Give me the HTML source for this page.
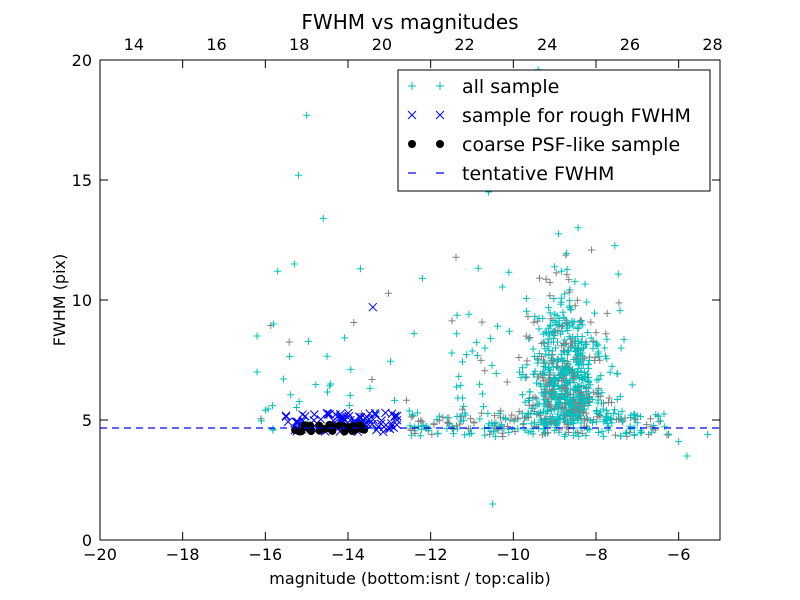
<!DOCTYPE html>
<html><head><meta charset="utf-8"><style>body{margin:0;background:#fff}svg{display:block}text{font-family:"DejaVu Sans","Liberation Sans",sans-serif}</style></head>
<body>
<svg id="s" width="800" height="600" xmlns="http://www.w3.org/2000/svg">
<rect width="800" height="600" fill="#fff"/>
<g id="pts"></g>
<line x1="100" y1="428" x2="720" y2="428" stroke="#0000ff" stroke-dasharray="7,5" stroke-width="1.2"/>
<rect x="100" y="60" width="620" height="480" fill="none" stroke="#000" stroke-width="1"/>
<g id="ticks" stroke="#000" stroke-width="1"></g>
<g id="labs" font-size="16" fill="#000"></g>
<text x="410" y="29" font-size="20" text-anchor="middle">FWHM vs magnitudes</text>
<text x="410" y="584" font-size="16" text-anchor="middle">magnitude (bottom:isnt / top:calib)</text>
<text x="65" y="300" font-size="16" text-anchor="middle" transform="rotate(-90 65 300)">FWHM (pix)</text>
<rect x="398" y="70" width="312" height="121" fill="#fff" stroke="#000" stroke-width="1"/>
<g stroke="#00bfbf" stroke-width="1"><path d="M408 86h8M412 82v8M436 86h8M440 82v8"/></g>
<g stroke="#0000ff" stroke-width="1"><path d="M408 111l8 8M416 111l-8 8M436 111l8 8M444 111l-8 8"/></g>
<circle cx="412" cy="144" r="4" fill="#000"/><circle cx="440" cy="144" r="4" fill="#000"/>
<path d="M408 173h8M436 173h8" stroke="#0000ff" stroke-width="1.2"/>
<g font-size="19" fill="#000"><text x="462" y="93">all sample</text><text x="462" y="122">sample for rough FWHM</text><text x="462" y="151">coarse PSF-like sample</text><text x="462" y="180">tentative FWHM</text></g>
</svg>
<script>
var NS="http://www.w3.org/2000/svg";
function X(v){return 100+(v+20)*620/15}function Y(v){return 540-v*24}
var t=document.getElementById('ticks'),l=document.getElementById('labs');
function ln(a,b,c,d){var e=document.createElementNS(NS,'line');e.setAttribute('x1',a);e.setAttribute('y1',b);e.setAttribute('x2',c);e.setAttribute('y2',d);t.appendChild(e)}
function tx(x,y,s,a){var e=document.createElementNS(NS,'text');e.setAttribute('x',x);e.setAttribute('y',y);e.setAttribute('text-anchor',a);e.textContent=s;l.appendChild(e)}
for(var v=-20;v<=-6;v+=2){var x=X(v);ln(x,540,x,532);ln(x,60,x,68);tx(x,560,'\u2212'+(-v),'middle')}
for(var c=14;c<=28;c+=2){var x=100+(c-13.18)*620/15;tx(x,50,''+c,'middle')}
for(var v=0;v<=20;v+=5){var y=Y(v);ln(100,y,108,y);ln(720,y,712,y);tx(92,y+6,''+v,'end')}
var seed=7;function r(){seed=(seed*16807)%2147483647;return seed/2147483647}
function g(){return (r()+r()+r()-1.5)*1.4}
var p=document.getElementById('pts'),h='';
function plus(x,y,col){h+='<path d="M'+(x-3.5)+' '+y+'h7M'+x+' '+(y-3.5)+'v7" stroke="'+col+'" fill="none"/>'}
function cross(x,y){h+='<path d="M'+(x-4)+' '+(y-4)+'l8 8M'+(x+4)+' '+(y-4)+'l-8 8" stroke="#0000ff" fill="none"/>'}
function cl(){return r()<0.3?'#808080':'#00bfbf'}
for(var i=0;i<650;i++){var m=-8.7+g()*0.6;var f=4.3+Math.abs(g())*2.0+r()*1.5;if(r()<0.25)f+=r()*4;plus(X(m),Y(f),cl())}
for(var i=0;i<220;i++){var m=-12.5+r()*6.3;var f=4.3+r()*1.0;plus(X(m),Y(f),cl())}
for(var i=0;i<110;i++){var m=-11.5+r()*4.5;var f=5+r()*9*r();plus(X(m),Y(f),cl())}
for(var i=0;i<45;i++){var m=-16.2+r()*4;var f=4.5+r()*7*r();plus(X(m),Y(f),cl())}
var extra=[[-15,17.7],[-15.2,15.2],[-14.6,13.4],[-10.5,1.5],[-5.8,3.5],[-6,4.1],[-5.3,4.4],[-10.6,14.5],[-9.7,15.2],[-9.4,16],[-9.4,19.6],[-12.4,8.6],[-15.3,11.5],[-15.7,11.2],[-16.2,8.5],[-16.2,7],[-13.7,11.3],[-12.2,10.9],[-15.8,9]];
extra.forEach(function(e){plus(X(e[0]),Y(e[1]),'#00bfbf')});
for(var i=0;i<90;i++){var m=-15.5+r()*2.7;var f=4.5+r()*0.8;cross(X(m),Y(f))}
cross(X(-13.4),Y(9.7));
for(var i=0;i<30;i++){var m=-15.3+r()*1.7;var f=4.5+r()*0.3;h+='<circle cx="'+X(m)+'" cy="'+Y(f)+'" r="4" fill="#000"/>'}
p.innerHTML=h;
</script>
</body></html>
